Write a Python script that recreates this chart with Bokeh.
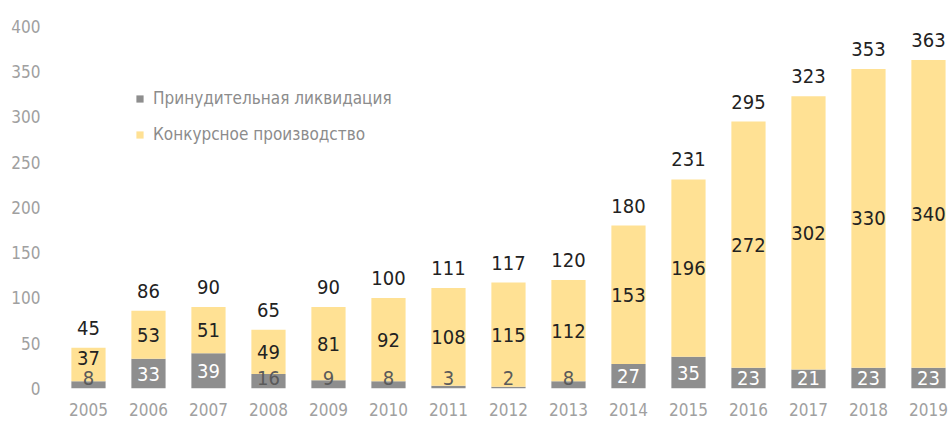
from bokeh.plotting import figure
from bokeh.models import Range1d, FixedTicker, ColumnDataSource, Legend
from bokeh.core.properties import value
from bokeh.embed import file_html
from bokeh.resources import INLINE

years = [2005, 2006, 2007, 2008, 2009, 2010, 2011, 2012, 2013, 2014, 2015, 2016, 2017, 2018, 2019]
year_labels = [str(y) for y in years]
liquidation = [8, 33, 39, 16, 9, 8, 3, 2, 8, 27, 35, 23, 21, 23, 23]
bankruptcy = [37, 53, 51, 49, 81, 92, 108, 115, 112, 153, 196, 272, 302, 330, 340]
totals = [45, 86, 90, 65, 90, 100, 111, 117, 120, 180, 231, 295, 323, 353, 363]
series_names = ["Принудительная ликвидация", "Конкурсное производство"]
y_ticks = [0, 50, 100, 150, 200, 250, 300, 350, 400]

GRAY = "#8e8e8e"
YELLOW = "#ffe194"
FONT = "Liberation Sans Narrow, DejaVu Sans Condensed, Roboto, sans-serif"

liq_label_y = [max(g / 2, 12) for g in liquidation]
bank_label_y = [max(g + b / 2, ly + 22) for g, b, ly in zip(liquidation, bankruptcy, liq_label_y)]
liq_label_color = ["#ffffff" if g >= 20 else "#5a5a5a" for g in liquidation]

src = ColumnDataSource(dict(
    x=years,
    liq_top=liquidation,
    bank_top=[g + b for g, b in zip(liquidation, bankruptcy)],
    total=totals,
    zero=[0] * len(years),
    liq_txt=[str(v) for v in liquidation],
    bank_txt=[str(v) for v in bankruptcy],
    total_txt=[str(v) for v in totals],
    liq_ly=liq_label_y,
    bank_ly=bank_label_y,
    liq_col=liq_label_color,
))

p = figure(width=950, height=423, output_backend="svg", toolbar_location=None,
           x_range=Range1d(2004.367, 2019.367), y_range=Range1d(0, 428.7),
           min_border_left=50, min_border_right=0, min_border_top=0, min_border_bottom=35)
p.outline_line_color = None
p.xgrid.visible = False
p.ygrid.visible = False
p.background_fill_color = "white"

r_liq = p.vbar(x="x", width=0.57, bottom="zero", top="liq_top", source=src,
               fill_color=GRAY, line_color=None)
r_bank = p.vbar(x="x", width=0.57, bottom="liq_top", top="bank_top", source=src,
                fill_color=YELLOW, line_color=None)

p.text(x="x", y="liq_ly", text="liq_txt", source=src, text_align="center", text_baseline="middle",
       text_font=value(FONT), text_font_size="20px", text_color="liq_col")
p.text(x="x", y="bank_ly", text="bank_txt", source=src, text_align="center", text_baseline="middle",
       text_font=value(FONT), text_font_size="20px", text_color="#222222")
p.text(x="x", y="total", text="total_txt", source=src, text_align="center", text_baseline="middle",
       y_offset=-20, text_font=value(FONT), text_font_size="20px", text_color="#222222")

legend = Legend(items=[(series_names[0], [r_liq]), (series_names[1], [r_bank])],
                location=(85, 244), orientation="vertical")
legend.glyph_width = 9
legend.glyph_height = 9
legend.label_text_font = FONT
legend.label_text_font_size = "17px"
legend.label_text_color = "#8c8c8c"
legend.spacing = 16
legend.padding = 0
legend.margin = 0
legend.label_standoff = 9
legend.border_line_color = None
legend.background_fill_alpha = 0
p.add_layout(legend, "center")

p.xaxis.ticker = FixedTicker(ticks=years)
p.xaxis.major_label_overrides = {y: lbl for y, lbl in zip(years, year_labels)}
p.yaxis.ticker = FixedTicker(ticks=y_ticks)
for ax in (p.xaxis, p.yaxis):
    ax.axis_line_color = None
    ax.major_tick_line_color = None
    ax.minor_tick_line_color = None
    ax.major_tick_out = 0
    ax.major_tick_in = 0
    ax.major_label_text_font = FONT
    ax.major_label_text_font_size = "17px"
    ax.major_label_text_color = "#a0a0a0"
p.xaxis.major_label_standoff = 14
p.yaxis.major_label_standoff = 10

open("out.html", "w").write(file_html(p, INLINE))
